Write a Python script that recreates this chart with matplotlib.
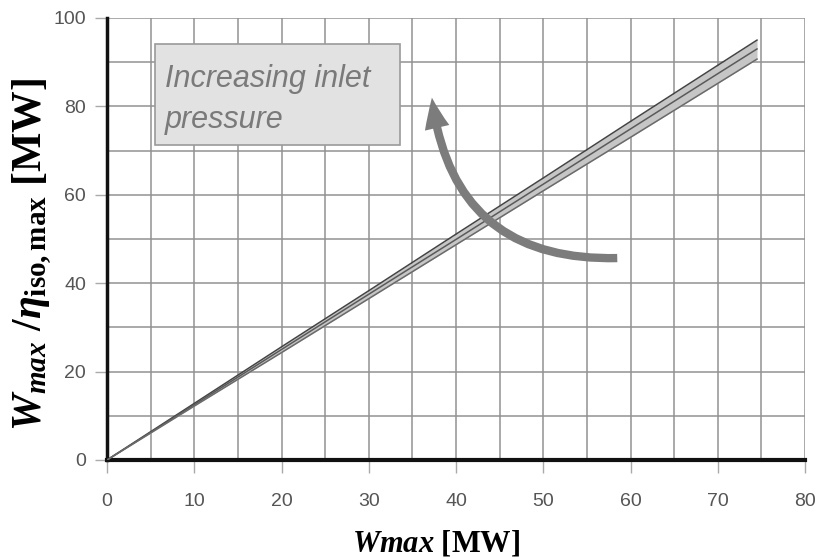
import matplotlib
matplotlib.use("Agg")
import matplotlib.pyplot as plt
from matplotlib.patches import FancyArrowPatch, Rectangle
import numpy as np

# Turbine power data: nominal output vs. isentropic-limited output
w_max = [0, 10, 20, 30, 40, 50, 60, 70, 74.5]
w_iso_high = [0, 12.8, 25.6, 38.3, 51.1, 63.8, 76.6, 89.3, 95.0]
w_iso_mid = [0, 12.5, 25.0, 37.5, 49.9, 62.4, 74.9, 87.4, 93.0]
w_iso_low = [0, 12.2, 24.3, 36.5, 48.7, 60.9, 73.0, 85.2, 90.7]

x_ticks = [0, 10, 20, 30, 40, 50, 60, 70, 80]
y_ticks = [0, 20, 40, 60, 80, 100]

plt.rcParams["mathtext.fontset"] = "custom"
plt.rcParams["mathtext.rm"] = "Liberation Serif:bold"
plt.rcParams["mathtext.it"] = "Liberation Serif:bold:italic"
plt.rcParams["mathtext.bf"] = "Liberation Serif:bold"

W, H = 820, 558
fig = plt.figure(figsize=(W / 100, H / 100), dpi=100)
ax = fig.add_axes([107 / W, 1 - 460 / H, 698 / W, 442 / H])
ax.set_xlim(0, 80)
ax.set_ylim(0, 100)

# grid every 5 on x, every 10 on y
ax.set_xticks(np.arange(0, 81, 5), minor=True)
ax.set_yticks(np.arange(0, 101, 10), minor=True)
ax.set_xticks(x_ticks)
ax.set_yticks(y_ticks)
ax.grid(True, which="both", color="#929292", lw=1.1)
ax.set_axisbelow(True)

for s in ("top", "right"):
    ax.spines[s].set_visible(False)
ax.spines["left"].set_linewidth(2.5)
ax.spines["bottom"].set_linewidth(3.0)
ax.spines["left"].set_color("#111111")
ax.spines["bottom"].set_color("#111111")

ax.tick_params(which="major", direction="out", width=1, color="#aaaaaa",
               labelsize=14, labelcolor="#555555")
ax.tick_params(axis="x", which="major", length=9, pad=14.5)
ax.tick_params(axis="y", which="major", length=8.6, pad=6.5)
ax.tick_params(which="minor", length=0)
for lab in ax.get_xticklabels() + ax.get_yticklabels():
    lab.set_fontfamily("Liberation Sans")

# band of curves
ax.fill_between(w_max, w_iso_low, w_iso_high, color="#c6c6c6", lw=0, zorder=2)
for ys, c in ((w_iso_high, "#444444"), (w_iso_mid, "#5a5a5a"), (w_iso_low, "#6a6a6a")):
    ax.plot(w_max, ys, color=c, lw=1.1, zorder=3)

# annotation box
ax.add_patch(Rectangle((5.5, 71.3), 28.1, 22.8, facecolor="#e2e2e2",
                       edgecolor="#9a9a9a", lw=1.2, zorder=4))
ax.text(6.6, 81.6, "Increasing inlet\npressure", fontsize=22, style="italic",
        family="Liberation Sans", color="#7a7a7a", va="center", ha="left",
        linespacing=1.45, zorder=5)

# curved arrow
arrow = FancyArrowPatch((58.8, 45.7), (37.2, 82.6),
                        connectionstyle="arc3,rad=-0.46",
                        arrowstyle="simple,tail_width=0.6,head_width=1.8,head_length=2.2",
                        mutation_scale=10, color="#7c7c7c", lw=0, zorder=6)
ax.add_patch(arrow)

fig.text(436 / W, 1 - 551 / H, r"$Wmax$ [MW]", fontsize=22, family="Liberation Serif",
         fontweight="bold", ha="center", va="baseline")
fig.text(32 / W, 1 - 254 / H, r"$W_{max}\ /\eta_{\mathrm{iso,max}}$ [MW]", fontsize=30,
         family="Liberation Serif", fontweight="bold", rotation=90,
         ha="center", va="center")

fig.savefig("out.png", dpi=100)
